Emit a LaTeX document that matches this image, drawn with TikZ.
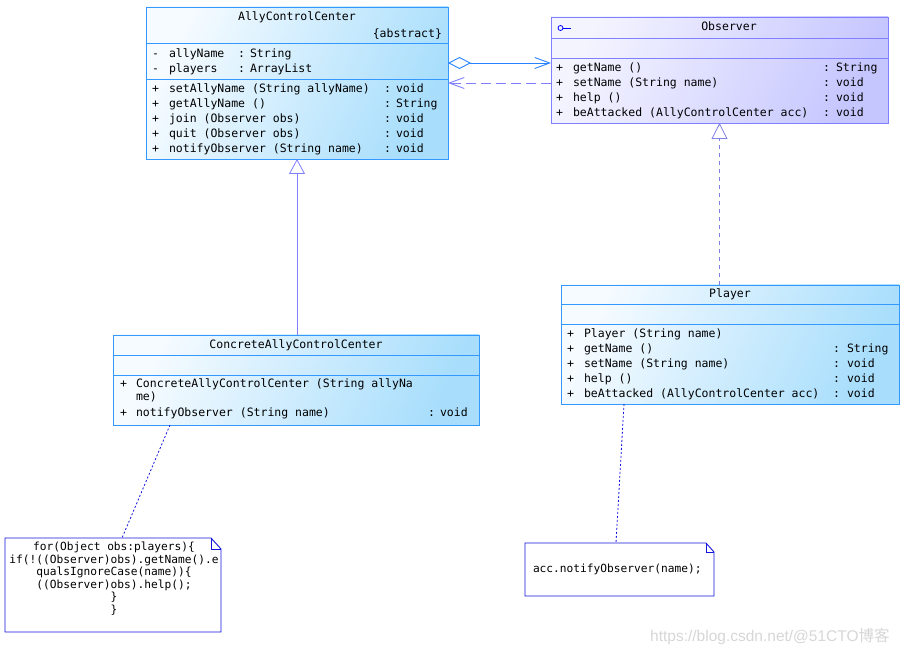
\documentclass[tikz,border=0pt]{standalone}
\usepackage{fontspec}
\setmainfont{Liberation Sans}
\setmonofont{DejaVu Sans Mono}
\newfontfamily\cjkfont{Noto Sans CJK SC}
\usetikzlibrary{arrows.meta}
\definecolor{accB}{RGB}{51,153,255}
\definecolor{accD}{RGB}{168,222,252}
\definecolor{accL}{RGB}{246,251,255}
\definecolor{obsB}{RGB}{128,128,255}
\definecolor{obsD}{RGB}{198,198,255}
\definecolor{obsL}{RGB}{244,244,255}
\definecolor{assocC}{RGB}{40,130,255}
\definecolor{noteB}{RGB}{20,20,220}
\definecolor{wmC}{RGB}{215,215,215}
\newcommand\ucA{0}\newcommand\ucB{0}\newcommand\ucC{0}\newcommand\ucD{0}
\newcommand\umlrow[5]{%
  \node[txt] (#1s) at (\ucA,#2) {#3};
  \node[txt] (#1m) at (\ucB,#2) {#4};
  \if\relax\detokenize{#5}\relax\else
  \node[txt] (#1c) at (\ucC,#2) {:};
  \node[txt] (#1t) at (\ucD,#2) {#5};
  \fi}
\begin{document}
\begin{tikzpicture}[x=1pt,y=-1pt,
  txt/.style={inner sep=0pt, outer sep=0pt, anchor=base west, font=\ttfamily\fontsize{11.5}{13}\selectfont},
  notetxt/.style={inner sep=0pt, outer sep=0pt, font=\ttfamily\fontsize{11.2}{12.6}\selectfont},
  umlbox/.style={rectangle, inner sep=0pt, outer sep=0pt, anchor=north west, line width=0.9pt},
  accbox/.style={umlbox, draw=accB, left color=accL, right color=accD, shading angle=65},
  obsbox/.style={umlbox, draw=obsB, left color=obsL, right color=obsD, shading angle=65},
  accsep/.style={draw=accB, line width=0.9pt},
  obssep/.style={draw=obsB, line width=0.9pt},
  notebox/.style={rectangle, inner sep=0pt, outer sep=0pt, anchor=north west},
  noteline/.style={draw=noteB, line width=0.9pt},
  noteconn/.style={draw=noteB, line width=0.8pt, dash pattern=on 2pt off 2pt},
]
\useasboundingbox[fill=white] (0,0) rectangle (903,652);

% ---------- AllyControlCenter ----------
\node[accbox, minimum width=302pt, minimum height=152pt] (acc) at (146,7) {};
\draw[accsep] (acc.west |- 0,43) -- (acc.east |- 0,43);
\draw[accsep] (acc.west |- 0,79) -- (acc.east |- 0,79);
\node[txt, anchor=base] (accT) at (297,21) {AllyControlCenter};
\node[txt, anchor=base east] (accAbs) at (442,38) {\{abstract\}};
\renewcommand\ucA{152}\renewcommand\ucB{169}\renewcommand\ucC{238}\renewcommand\ucD{250}
\umlrow{accA1}{58}{-}{allyName}{String}
\umlrow{accA2}{73}{-}{players}{ArrayList}
\renewcommand\ucC{384}\renewcommand\ucD{396}
\umlrow{accM1}{93}{+}{setAllyName (String allyName)}{void}
\umlrow{accM2}{108}{+}{getAllyName ()}{String}
\umlrow{accM3}{123}{+}{join (Observer obs)}{void}
\umlrow{accM4}{138}{+}{quit (Observer obs)}{void}
\umlrow{accM5}{153}{+}{notifyObserver (String name)}{void}

% ---------- Observer ----------
\node[obsbox, minimum width=337pt, minimum height=106pt] (obs) at (551,17) {};
\draw[obssep] (obs.west |- 0,38) -- (obs.east |- 0,38);
\draw[obssep] (obs.west |- 0,58) -- (obs.east |- 0,58);
\node[txt, anchor=base] (obsT) at (729,31) {Observer};
\node[circle, draw=blue, line width=0.8pt, inner sep=0pt, minimum size=5pt] (obsIcon) at (560.5,28) {};
\draw[blue, line width=0.8pt] (obsIcon.east) -- ++(8,0);
\renewcommand\ucA{556}\renewcommand\ucB{573}\renewcommand\ucC{823}\renewcommand\ucD{836}
\umlrow{obsM1}{72}{+}{getName ()}{String}
\umlrow{obsM2}{87}{+}{setName (String name)}{void}
\umlrow{obsM3}{102}{+}{help ()}{void}
\umlrow{obsM4}{117}{+}{beAttacked (AllyControlCenter acc)}{void}

% ---------- ConcreteAllyControlCenter ----------
\node[accbox, minimum width=366pt, minimum height=90pt] (cacc) at (113,335) {};
\draw[accsep] (cacc.west |- 0,355) -- (cacc.east |- 0,355);
\draw[accsep] (cacc.west |- 0,375) -- (cacc.east |- 0,375);
\node[txt, anchor=base] (caccT) at (296,349) {ConcreteAllyControlCenter};
\renewcommand\ucA{120}\renewcommand\ucB{136}\renewcommand\ucC{428}\renewcommand\ucD{440}
\umlrow{caccM1}{388}{+}{ConcreteAllyControlCenter (String allyNa}{}
\node[txt] (caccM1b) at (136,401) {me)};
\umlrow{caccM2}{417}{+}{notifyObserver (String name)}{void}

% ---------- Player ----------
\node[accbox, minimum width=338pt, minimum height=119pt] (pl) at (561,285) {};
\draw[accsep] (pl.west |- 0,304) -- (pl.east |- 0,304);
\draw[accsep] (pl.west |- 0,324) -- (pl.east |- 0,324);
\node[txt, anchor=base] (plT) at (730,298) {Player};
\renewcommand\ucA{567}\renewcommand\ucB{584}\renewcommand\ucC{833}\renewcommand\ucD{847}
\umlrow{plM1}{338}{+}{Player (String name)}{}
\umlrow{plM2}{353}{+}{getName ()}{String}
\umlrow{plM3}{368}{+}{setName (String name)}{void}
\umlrow{plM4}{383}{+}{help ()}{void}
\umlrow{plM5}{398}{+}{beAttacked (AllyControlCenter acc)}{void}

% ---------- Notes ----------
\node[notebox, minimum width=216pt, minimum height=94pt] (n1) at (5,538) {};
\draw[noteline] (n1.south west) -- (n1.north west) -- ([xshift=-10pt]n1.north east)
  -- ([yshift=-11pt]n1.north east) -- (n1.south east) -- cycle;
\draw[noteline, line width=0.6pt] ([xshift=-10pt]n1.north east) -- ([xshift=-10pt,yshift=-11pt]n1.north east) -- ([yshift=-11pt]n1.north east);
\node[notetxt, anchor=north, align=center] (n1t) at (114,542)
  {for(Object obs:players)\{\\if(!((Observer)obs).getName().e\\qualsIgnoreCase(name))\{\\((Observer)obs).help();\\\}\\\}};

\node[notebox, minimum width=189pt, minimum height=53pt] (n2) at (525,543) {};
\draw[noteline] (n2.south west) -- (n2.north west) -- ([xshift=-8pt]n2.north east)
  -- ([yshift=-9pt]n2.north east) -- (n2.south east) -- cycle;
\draw[noteline, line width=0.6pt] ([xshift=-8pt]n2.north east) -- ([xshift=-8pt,yshift=-9pt]n2.north east) -- ([yshift=-9pt]n2.north east);
\node[notetxt, anchor=base west] (n2t) at (533,572) {acc.notifyObserver(name);};

% ---------- Connectors ----------
\coordinate (aggS) at ([yshift=-56pt]acc.north east);
\draw[assocC, line width=0.9pt,
  {Diamond[open,length=23pt,width=12pt]}-{Straight Barb[length=15pt,width=11pt]}]
  (aggS) -- (obs.west |- aggS);
\coordinate (depS) at ([yshift=-66pt]obs.north west);
\draw[obsB, line width=0.9pt, dash pattern=on 10pt off 5pt,
  -{Straight Barb[length=15pt,width=11pt]}]
  (depS) -- (acc.east |- depS);
\draw[obsB, line width=0.8pt, -{Triangle[open,length=15pt,width=16pt]}]
  (cacc.north -| acc.south) -- (acc.south);
\draw[obsB!80!gray, line width=0.8pt, dash pattern=on 4pt off 4pt,
  -{Triangle[open,length=16pt,width=16pt]}]
  (pl.north -| obs.south) -- (obs.south);
\draw[noteconn] ([xshift=57pt]cacc.south west) -- ([xshift=117pt]n1.north west);
\draw[noteconn] ([xshift=63pt]pl.south west) -- ([xshift=91pt]n2.north west);

% ---------- Watermark ----------
\node[inner sep=0pt, anchor=base west, text=wmC, font=\fontsize{15.5}{17}\selectfont] (wm) at (650,641)
  {https://blog.csdn.net/@51CTO{\cjkfont 博客}};
\end{tikzpicture}
\end{document}
